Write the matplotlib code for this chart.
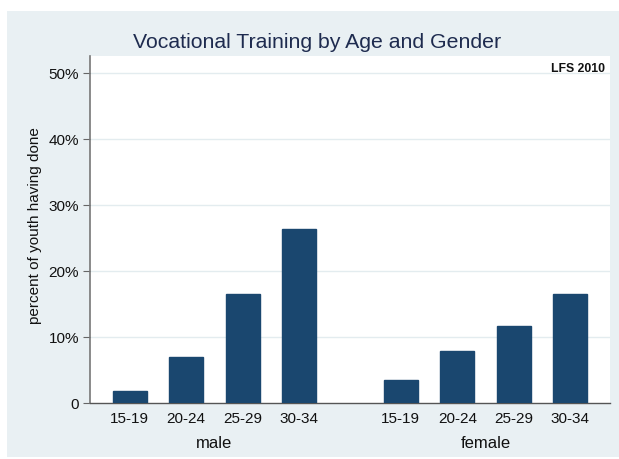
import matplotlib
matplotlib.use("Agg")
import matplotlib.pyplot as plt
from matplotlib.patches import Rectangle

# data (percent)
age_groups = ["15-19", "20-24", "25-29", "30-34"]
genders = ["male", "female"]
male_pct = [1.8, 6.9, 16.5, 26.4]
female_pct = [3.5, 7.9, 11.6, 16.5]

yticks = [0, 10, 20, 30, 40, 50]
ytick_labels = ["0", "10%", "20%", "30%", "40%", "50%"]

bar_color = "#1a476f"
bg_color = "#e9f0f3"
grid_color = "#e3ecef"

plt.rcParams["font.family"] = ["Liberation Sans", "DejaVu Sans"]

fig = plt.figure(figsize=(6.19, 4.60), dpi=100)
# light graph region behind everything
fig.patches.append(Rectangle((7 / 619, 1 - 458 / 460), 612 / 619, 446 / 460,
                             transform=fig.transFigure, facecolor=bg_color,
                             edgecolor="none", zorder=-10))

ax = fig.add_axes([90 / 619, 1 - 404 / 460, 520 / 619, 347.3 / 460])
ax.set_zorder(1)
ax.set_facecolor("white")

group_gap = 1.8
male_x = list(range(len(age_groups)))
female_x = [x + len(age_groups) - 1 + group_gap for x in male_x]

ax.bar(male_x, male_pct, width=0.6, color=bar_color, edgecolor=bar_color, zorder=3)
ax.bar(female_x, female_pct, width=0.6, color=bar_color, edgecolor=bar_color, zorder=3)

ax.set_xlim(-0.7, female_x[-1] + 0.7)
ax.set_ylim(0, 52.6)
ax.set_yticks(yticks)
ax.set_yticklabels(ytick_labels, fontsize=11, color="#111111")
ax.set_xticks(male_x + female_x)
ax.set_xticklabels(age_groups + age_groups, fontsize=11, color="#111111")
ax.tick_params(axis="x", length=0, pad=6)
ax.tick_params(axis="y", length=5, width=0.8, color="#666666", pad=3)

for y in yticks[1:]:
    ax.axhline(y, color=grid_color, lw=1.0, zorder=1)

for side in ["top", "right"]:
    ax.spines[side].set_visible(False)
ax.spines["left"].set_color("#777777")
ax.spines["left"].set_linewidth(1.2)
ax.spines["bottom"].set_color("#555555")
ax.spines["bottom"].set_linewidth(1.0)

# group labels under the tick labels
for xs, name in [(male_x, genders[0]), (female_x, genders[1])]:
    ax.text((xs[0] + xs[-1]) / 2, -0.115, name, transform=ax.get_xaxis_transform(),
            ha="center", va="center", fontsize=12, color="#111111")

ax.set_ylabel("percent of youth having done", fontsize=11, color="#111111",
              va="center")
ax.yaxis.set_label_coords(-0.106, 0.515)

ax.text(0.99, 0.982, "LFS 2010", transform=ax.transAxes, ha="right", va="top",
        fontsize=8.8, color="#111111", fontweight="semibold")

fig.text(317 / 619, 1 - 42 / 460, "Vocational Training by Age and Gender",
         ha="center", va="center", fontsize=15.3, color="#1e2b4f")

fig.savefig("out.png", dpi=100)
